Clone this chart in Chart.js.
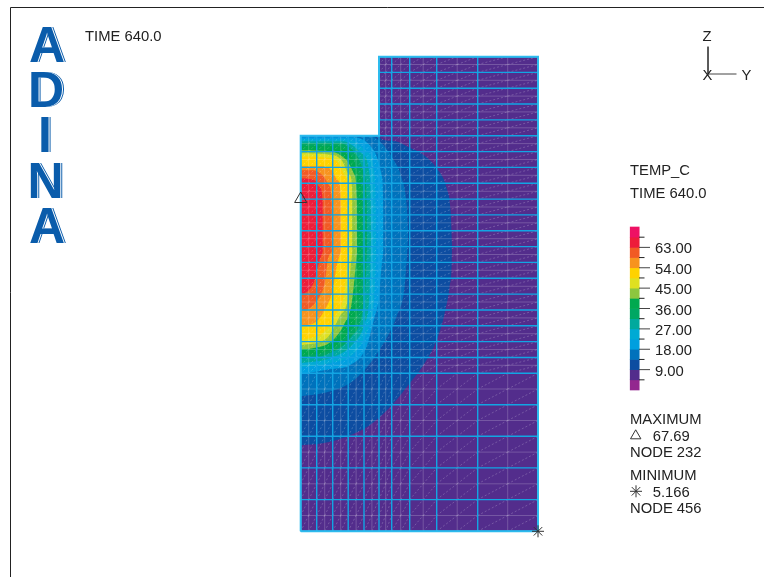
<!DOCTYPE html>
<html>
<head>
<meta charset="utf-8">
<title>TEMP_C</title>
<script src="https://cdn.jsdelivr.net/npm/chart.js@4"></script>
<style>
body { margin: 0; background: #fff; }
canvas { display: block; }
</style>
</head>
<body>
<canvas id="canvas-grafico" width="764" height="577"></canvas>
<script>
// mesh lines, horizontal coordinate r and vertical coordinate z
const columnasMayor = [0, 16, 32, 47.5, 63.3, 78.3, 91, 109, 136, 177, 237.3];
const columnasMenor = [8, 24, 40, 55.4, 71.2, 85, 100, 122.5, 156.5, 207];
const filasMayor = [0, 31.7, 63.4, 95, 126.6, 158, 173.8, 189.7, 205.5, 221.3, 237.2, 253, 268.9, 284.7, 300.5, 316.4, 332.2, 348, 363.9, 379.7, 395.6, 411.4, 427.3, 443.1, 458.9, 474.6];
const filasMenor = [15.8, 47.5, 79.2, 110.8, 142.3, 166, 181.8, 197.6, 213.4, 229.3, 245, 261, 276.8, 292.6, 308.5, 324.3, 340, 356, 371.8, 387.7, 403.5, 419.4, 435.2, 451, 466.8];
const rEscalon = 78.3;
const zEscalon = 395.6;
const rMax = 237.3;
const zMax = 474.6;

// contour bands: level, upper edge, lower edge
const nivel9Arriba = [[0,395.6],[78.3,395.6],[81,392],[95,390],[108,384],[122,377],[136,363],[146,343],[150,319],[151.3,286]];
const nivel9Abajo = [[0,86],[22,88],[47,95],[69,106],[91,126],[109,148],[122,165],[136,191],[144,218],[149,245],[151,268],[151.3,286]];
const nivel13Arriba = [[0,395],[71,395],[79,390],[92,373],[101,353],[106,326],[107.5,296]];
const nivel13Abajo = [[0,135],[22,138],[49,148],[67,165],[81,185],[96,215],[104,245],[106,271],[107.5,296]];
const nivel18Arriba = [[0,394],[53,394],[73,381],[81,356],[82.6,323],[82.8,281]];
const nivel18Abajo = [[0,157],[29,162],[49,166],[66,185],[74,215],[78,231],[80.5,261],[82.8,281]];
const nivel22Arriba = [[0,392],[47,392],[66,380],[74,356],[75,323],[75.3,279]];
const nivel22Abajo = [[0,164],[29,168],[56,181],[69,208],[74,241],[75.3,279]];
const nivel27Arriba = [[0,390],[42,390],[61,378],[69,356],[70,326],[70.3,290]];
const nivel27Abajo = [[0,168],[29,173],[53,188],[64,208],[69,241],[70.3,290]];
const nivel31Arriba = [[0,388],[39,388],[56,376],[64,356],[66,330],[66.3,285]];
const nivel31Abajo = [[0,172],[29,178],[51,195],[61,215],[65,248],[66.3,285]];
const nivel36Arriba = [[0,385],[32,385],[51,375],[59,356],[61,333],[61.2,290]];
const nivel36Abajo = [[0,175],[32,183],[49,201],[58,225],[60,255],[61.2,290]];
const nivel40Arriba = [[0,381],[29,380],[46,371],[54,356],[56,333],[56.3,280]];
const nivel40Abajo = [[0,182],[12,183],[31,190],[44,208],[51,228],[55,265],[56.3,280]];
const nivel45Arriba = [[0,378],[26,377],[41,371],[49,356],[51.6,340],[51.8,280]];
const nivel45Abajo = [[0,186],[26,193],[39,215],[48,238],[50,265],[51.8,280]];
const nivel49Arriba = [[0,375],[22,374],[36,370],[44,356],[47,340],[48,280]];
const nivel49Abajo = [[0,191],[9,193],[22,198],[36,218],[44,241],[46,265],[48,280]];
const nivel54Arriba = [[0,365],[19,365],[31,361],[37,351],[40,336],[40.3,280]];
const nivel54Abajo = [[0,205],[16,210],[26,225],[32,241],[36,265],[40.3,280]];
const nivel58Arriba = [[0,361],[12,361],[22,356],[29,345],[31,326],[31.2,280]];
const nivel58Abajo = [[0,221],[9,223],[19,235],[24,248],[27,271],[31.2,280]];
const nivel63Arriba = [[0,353],[14,351],[19,344],[22,329],[22.2,280]];
const nivel63Abajo = [[0,237],[7,240],[14,251],[18,268],[22.2,280]];

const contornos = [
    [nivel9Arriba, nivel9Abajo, '#0D4DA1'],
    [nivel13Arriba, nivel13Abajo, '#0072BC'],
    [nivel18Arriba, nivel18Abajo, '#009FDF'],
    [nivel22Arriba, nivel22Abajo, '#00AAD4'],
    [nivel27Arriba, nivel27Abajo, '#00A99D'],
    [nivel31Arriba, nivel31Abajo, '#00A763'],
    [nivel36Arriba, nivel36Abajo, '#00A94F'],
    [nivel40Arriba, nivel40Abajo, '#8DC63F'],
    [nivel45Arriba, nivel45Abajo, '#DFE021'],
    [nivel49Arriba, nivel49Abajo, '#FFD200'],
    [nivel54Arriba, nivel54Abajo, '#F7931E'],
    [nivel58Arriba, nivel58Abajo, '#F15A24'],
    [nivel63Arriba, nivel63Abajo, '#ED1C3A']
];

// color bar
const bandasLimite = [0, 4.5, 9, 13.5, 18, 22.5, 27, 31.5, 36, 40.5, 45, 49.5, 54, 58.5, 63, 67.5, 72];
const bandasColor = ['#93278F', '#532D8C', '#0D4DA1', '#0072BC', '#009FDF', '#00AAD4', '#00A99D', '#00A763', '#00A94F', '#8DC63F', '#DFE021', '#FFD200', '#F7931E', '#F15A24', '#ED1C3A', '#EE1164'];
const ticksLargos = [9, 18, 27, 36, 45, 54, 63];
const ticksCortos = [4.5, 13.5, 22.5, 31.5, 40.5, 49.5, 58.5, 67.5];

// picos and the frame
const nodoMaximo = [[0, 332.3]];
const nodoMinimo = [[237.3, 0]];
const simboloMaximo = [[335, 95.5]];
const simboloMinimo = [[335.3, 40]];
const marcoR = [-290.2, -290.2, 463.3];
const marcoZ = [-45.7, 523.8, 523.8];
const ejeZ_r = [407.3, 407.3];
const ejeZ_z = [484.6, 457.3];
const ejeY_r = [407.3, 435.8];
const ejeY_z = [457.3, 457.3];

const textos = [
    ['TIME 640.0', 85, 41],
    ['TEMP_C', 630, 175],
    ['TIME 640.0', 630, 197.7],
    ['MAXIMUM', 630, 424],
    ['67.69', 652.7, 440.7],
    ['NODE 232', 630, 457.3],
    ['MINIMUM', 630, 480],
    ['5.166', 652.7, 496.7],
    ['NODE 456', 630, 513.3],
    ['Z', 702.5, 40.7],
    ['X', 702.5, 80],
    ['Y', 741.5, 80]
];
const logo = [['A', 29, 61.7], ['D', 28, 106.7], ['I', 38, 152], ['N', 27.5, 198], ['A', 29, 243.3]];

function puntos(lista){
    return lista.map((p)=>({x: p[0], y: p[1]}));
}

function tramos(lista){
    // every stretch is closed with a gap so one dataset holds many lines
    const salida = [];
    lista.forEach((t)=>{
        salida.push({x: t[0], y: t[1]}, {x: t[2], y: t[3]}, {x: NaN, y: NaN});
    });
    return salida;
}

function lineasVerticales(columnas){
    return columnas.map((r)=>[r, 0, r, r < rEscalon ? zEscalon : zMax]);
}

function lineasHorizontales(filas){
    return filas.map((z)=>[z > zEscalon ? rEscalon : 0, z, rMax, z]);
}

function diagonales(){
    const cols = columnasMayor.concat(columnasMenor).sort((a, b)=>a - b);
    const filas = filasMayor.concat(filasMenor).sort((a, b)=>a - b);
    const lista = [];
    for(let i = 0; i < cols.length - 1; i++){
        for(let j = 0; j < filas.length - 1; j++){
            if(filas[j] >= zEscalon && cols[i] < rEscalon){
                continue;
            }
            lista.push([cols[i], filas[j], cols[i + 1], filas[j + 1]]);
        }
    }
    return lista;
}

function relleno(arriba, abajo, color, orden){
    return [{
        type: 'line', data: puntos(arriba), backgroundColor: color, fill: '+1', borderWidth: 0,
        pointRadius: 0, cubicInterpolationMode: 'monotone', order: orden
    }, {
        type: 'line', data: puntos(abajo), fill: false, borderWidth: 0,
        pointRadius: 0, cubicInterpolationMode: 'monotone', order: orden
    }];
}

function linea(datos, color, ancho, orden, extra){
    return Object.assign({
        type: 'line', data: datos, borderColor: color, borderWidth: ancho,
        pointRadius: 0, fill: false, spanGaps: false, order: orden
    }, extra || {});
}

function simbolo(lista, estilo, radio, orden){
    return {
        type: 'line', data: puntos(lista), showLine: false, pointStyle: estilo, pointRadius: radio,
        pointBorderColor: '#333', pointBackgroundColor: 'rgba(0,0,0,0)', pointBorderWidth: 1, order: orden
    };
}

let datasets = [];
// purple base of the two blocks
datasets = datasets.concat(relleno([[0, zEscalon], [rMax, zEscalon]], [[0, 0], [rMax, 0]], '#532D8C', 100));
datasets = datasets.concat(relleno([[rEscalon, zMax], [rMax, zMax]], [[rEscalon, zEscalon], [rMax, zEscalon]], '#532D8C', 100));
contornos.forEach((c, i)=>{
    datasets = datasets.concat(relleno(c[0], c[1], c[2], 90 - i));
});
datasets.push(linea(tramos(diagonales()), 'rgba(255,255,255,0.26)', 0.8, 20, {borderDash: [2, 2]}));
datasets.push(linea(tramos(lineasVerticales(columnasMenor).concat(lineasHorizontales(filasMenor))), 'rgba(255,255,255,0.2)', 1, 15));
datasets.push(linea(tramos(lineasVerticales(columnasMayor).concat(lineasHorizontales(filasMayor))), '#12A5E3', 1.4, 10));
datasets.push(linea(puntos([[0, 0], [0, zEscalon], [rEscalon, zEscalon], [rEscalon, zMax], [rMax, zMax], [rMax, 0], [0, 0]]), '#2DBBEE', 2, 5));
datasets.push(simbolo(nodoMaximo, 'triangle', 7, 2));
datasets.push(simbolo(nodoMinimo, 'star', 6, 2));
datasets.push(simbolo(simboloMaximo, 'triangle', 6, 2));
datasets.push(simbolo(simboloMinimo, 'star', 6, 2));
datasets.push(linea(marcoR.map((r, i)=>({x: r, y: marcoZ[i]})), '#222', 1, 3));
datasets.push(linea(ejeZ_r.map((r, i)=>({x: r, y: ejeZ_z[i]})), '#444', 1, 3));
datasets.push(linea(ejeY_r.map((r, i)=>({x: r, y: ejeY_z[i]})), '#444', 1, 3));
// color bar and its ticks
datasets.push({
    type: 'bar', yAxisID: 'yLeyenda', order: 4, barThickness: 9, grouped: false,
    data: bandasColor.map((c, i)=>({x: 334, y: [bandasLimite[i], bandasLimite[i + 1]]})),
    backgroundColor: bandasColor
});
datasets.push(linea(tramos(ticksLargos.map((v)=>[338.3, v, 349.3, v])), '#444', 1, 3, {yAxisID: 'yLeyenda'}));
datasets.push(linea(tramos(ticksCortos.map((v)=>[338.3, v, 343.8, v])), '#222', 1, 3, {yAxisID: 'yLeyenda'}));

const pluginTextos = {
    id: 'textos',
    afterDraw(chart){
        const ctx = chart.ctx;
        ctx.save();
        ctx.textAlign = 'left';
        ctx.textBaseline = 'alphabetic';
        ctx.font = '14.8px "Liberation Sans"';
        ctx.fillStyle = '#222';
        textos.forEach((t)=>ctx.fillText(t[0], t[1], t[2]));
        ctx.font = 'bold 50px "Liberation Sans"';
        logo.forEach((l)=>{
            // thin bevel on the right side of each letter
            ctx.fillStyle = '#0A5CAB';
            ctx.fillText(l[0], l[1] + 2, l[2]);
            ctx.fillStyle = '#fff';
            ctx.fillText(l[0], l[1] + 1, l[2]);
            ctx.fillStyle = '#0A5CAB';
            ctx.fillText(l[0], l[1], l[2]);
        });
        ctx.restore();
    }
};

const ctx_g = document.getElementById("canvas-grafico");
new Chart(ctx_g, {
    type: 'line',
    data: {datasets: datasets},
    plugins: [pluginTextos],
    options: {
        responsive: false,
        animation: false,
        events: [],
        layout: {padding: 0, autoPadding: false},
        plugins: {legend: {display: false}, tooltip: {enabled: false}},
        scales: {
            x: {type: 'linear', display: false, min: -300.7, max: 463.3, offset: false, grid: {offset: false}},
            y: {type: 'linear', display: false, min: -45.7, max: 531.3},
            yLeyenda: {
                type: 'linear',
                position: 'left',
                min: -82.6,
                max: 172.27,
                grid: {display: false},
                border: {display: false},
                afterBuildTicks: (eje)=>{
                    eje.ticks = ticksLargos.map((v)=>({value: v}));
                },
                afterFit: (eje)=>{
                    eje.width = 0;
                    eje.paddingTop = 0;
                    eje.paddingBottom = 0;
                    eje.paddingLeft = 0;
                    eje.paddingRight = 0;
                },
                ticks: {
                    mirror: true,
                    padding: 655,
                    labelOffset: 2,
                    autoSkip: false,
                    color: '#222',
                    font: {family: '"Liberation Sans"', size: 14.8},
                    callback: (v)=>v.toFixed(2)
                }
            }
        }
    }
});
</script>
</body>
</html>
